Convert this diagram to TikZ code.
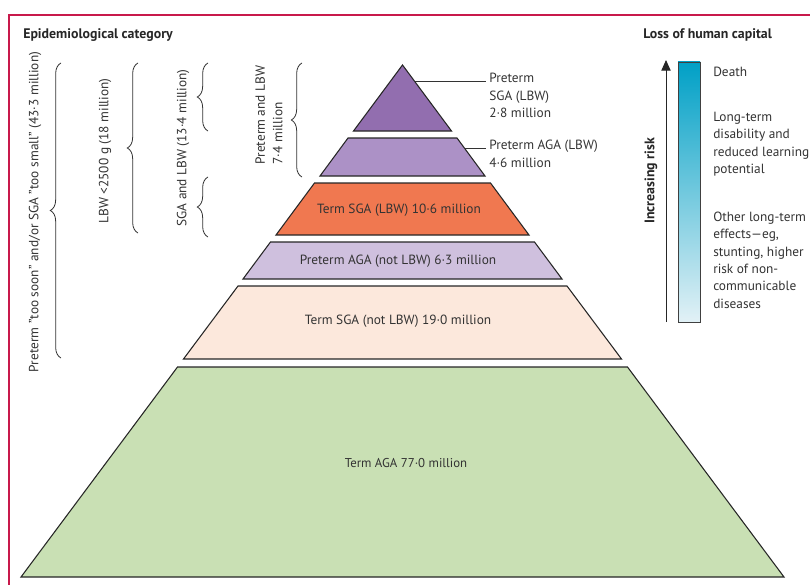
\documentclass[tikz,border=0pt]{standalone}
\usepackage{fontspec}
\setmainfont{PT Sans}
\usetikzlibrary{decorations.pathreplacing,arrows.meta}
\definecolor{lancetred}{HTML}{C8194B}
\definecolor{topviolet}{HTML}{926EAF}
\definecolor{midviolet}{HTML}{AC91C6}
\definecolor{termorange}{HTML}{F07850}
\definecolor{paleviolet}{HTML}{CFC0DE}
\definecolor{palepeach}{HTML}{FCE8DC}
\definecolor{palegreen}{HTML}{C9E0B4}
\definecolor{riskteal}{HTML}{00A0C6}
\definecolor{riskpale}{HTML}{E2F1F6}
\definecolor{inkgrey}{HTML}{333333}
\begin{document}
\begin{tikzpicture}
		[x=0.75pt,y=-0.75pt,
		layer/.style={draw=black!85,line width=0.8pt},
		txt/.style={text=inkgrey,font=\fontsize{10}{13}\selectfont,inner sep=0pt,align=left},
		head/.style={text=black!85,font=\bfseries\fontsize{10.4}{13}\selectfont,inner sep=0pt},
		curly/.style={draw=inkgrey,line width=0.6pt,decorate,decoration={brace,amplitude=8pt}},
		lead/.style={draw=inkgrey,line width=0.6pt}]
		\useasboundingbox (0,0) rectangle (810,585);
		\draw[lancetred,line width=1.1pt] (9,585)--(9,15)--(810,15);
		% headings
		\node[head,name=epihead,anchor=west]at(23,35){Epidemiological category};
		\node[head,name=losshead,anchor=west]at(643,35){Loss of human capital};
		% pyramid
		\filldraw[layer,fill=topviolet] (402.5,65)--(451.5,131)--(353.5,131)--cycle;
		\filldraw[layer,fill=midviolet] (348,138)--(457,138)--(485,176)--(320,176)--cycle;
		\filldraw[layer,fill=termorange] (314.5,183)--(490.5,183)--(529,235)--(276,235)--cycle;
		\filldraw[layer,fill=paleviolet] (270.5,242)--(534.5,242)--(562,279)--(243,279)--cycle;
		\filldraw[layer,fill=palepeach] (238,286)--(567,286)--(621.5,359)--(183.5,359)--cycle;
		\filldraw[layer,fill=palegreen] (177.5,367)--(627.5,367)--(784,577)--(21,577)--cycle;
		\node[txt,name=termsga]at(399,210){Term SGA (LBW) 10·6 million};
		\node[txt,name=pretermaga]at(398,261){Preterm AGA (not LBW) 6·3 million};
		\node[txt,name=termsgan]at(398,321){Term SGA (not LBW) 19·0 million};
		\node[txt,name=termaga,font=\fontsize{9.6}{12}\selectfont]at(406,463){Term AGA 77·0 million};
		% side labels with leaders
		\node[txt,name=presga,anchor=north west]at(489,73){Preterm\\SGA (LBW)\\2·8 million};
		\node[txt,name=preaga,anchor=north west]at(489,140){Preterm AGA (LBW)\\4·6 million};
		\coordinate (sgaedge) at (414.5,81);
		\coordinate (agaedge) at (464.5,148);
		\draw[lead] (sgaedge)--([xshift=-2pt]sgaedge-|presga.west);
		\draw[lead] (agaedge)--([xshift=-2pt]agaedge-|preaga.west);
		% braces
		\draw[curly] (61,358)--(61,63);
		\draw[curly] (138,233)--(138,63);
		\draw[curly] (208,131)--(208,63);
		\draw[curly] (208,237)--(208,177);
		\draw[curly] (302,177)--(302,63);
		\node[txt,name=toosoon,rotate=90]at(35,212){Preterm "too soon" and/or SGA "too small" (43·3 million)};
		\node[txt,name=lbw,rotate=90]at(105,151){LBW <2500 g (18 million)};
		\node[txt,name=sgalbw,rotate=90]at(183,148){SGA and LBW (13·4 million)};
		\node[txt,name=prelbw,rotate=90]at(269,115){Preterm and LBW\\7·4 million};
		% risk scale
		\shade[top color=riskteal,bottom color=riskpale] (678,62) rectangle (700,322);
		\draw[black!75,line width=0.6pt] (678,62) rectangle (700,322);
		\coordinate (riskfoot) at (666,322);
		\coordinate (risktip) at (666,60);
		\draw[-{Triangle[length=8pt,width=7pt]},line width=0.7pt,black!85] (riskfoot)--(risktip);
		\node[head,name=risk,rotate=90]at(651,181){Increasing risk};
		\node[txt,name=death,anchor=west]at(713,72){Death};
		\node[txt,name=disab,anchor=west]at(713,144){Long-term\\disability and\\reduced learning\\potential};
		\node[txt,name=other,anchor=west]at(713,260){Other long-term\\effects—eg,\\stunting, higher\\risk of non-\\communicable\\diseases};
	\end{tikzpicture}
\end{document}
